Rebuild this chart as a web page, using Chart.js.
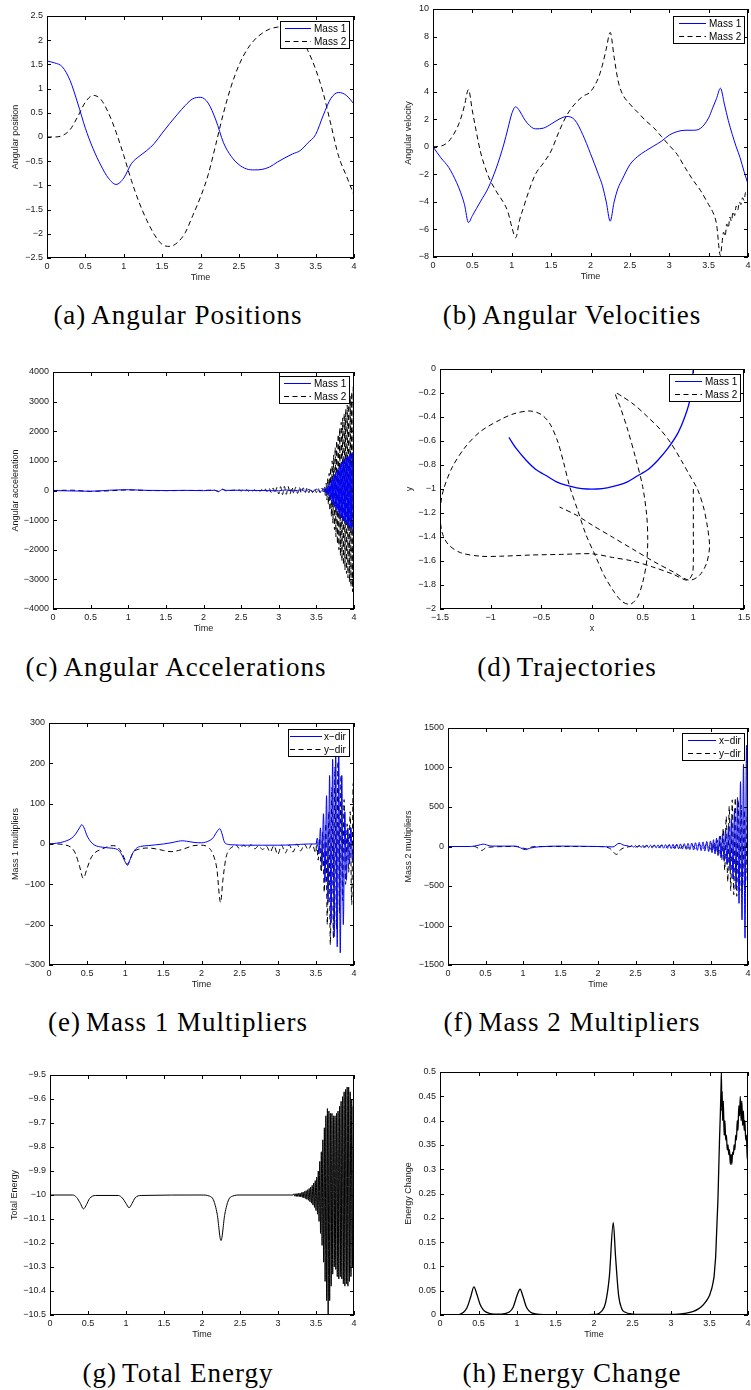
<!DOCTYPE html>
<html>
<head>
<meta charset="utf-8">
<script src="https://cdn.jsdelivr.net/npm/chart.js@4.4.1/dist/chart.umd.min.js"></script>
<style>
html, body { margin: 0; padding: 0; background: #fff; overflow: hidden; }
body { width: 751px; height: 1390px; position: relative; }
canvas { position: absolute; }
.cap {
    position: absolute;
    font-family: "Liberation Serif", "Times New Roman", serif;
    font-size: 27px;
    letter-spacing: 1px;
    line-height: 1;
    color: #000;
    white-space: nowrap;
    transform: translate(-50%, -50%);
}
.cap span { margin-right: 5px; }
</style>
</head>
<body>
<div class="cap" style="left:178px;top:315px"><span>(a)</span>Angular Positions</div>
<div class="cap" style="left:572px;top:315px"><span>(b)</span>Angular Velocities</div>
<div class="cap" style="left:176px;top:667px"><span>(c)</span>Angular Accelerations</div>
<div class="cap" style="left:567px;top:667px"><span>(d)</span>Trajectories</div>
<div class="cap" style="left:178px;top:1022px"><span>(e)</span>Mass 1 Multipliers</div>
<div class="cap" style="left:572px;top:1022px"><span>(f)</span>Mass 2 Multipliers</div>
<div class="cap" style="left:178px;top:1373px"><span>(g)</span>Total Energy</div>
<div class="cap" style="left:572px;top:1373px"><span>(h)</span>Energy Change</div>
<script>
// ---- tick labels ----
const timeTicks = [0, 0.5, 1, 1.5, 2, 2.5, 3, 3.5, 4];
const aYTicks = [-2.5, -2, -1.5, -1, -0.5, 0, 0.5, 1, 1.5, 2, 2.5];
const bYTicks = [-8, -6, -4, -2, 0, 2, 4, 6, 8, 10];
const cYTicks = [-4000, -3000, -2000, -1000, 0, 1000, 2000, 3000, 4000];
const dXTicks = [-1.5, -1, -0.5, 0, 0.5, 1, 1.5];
const dYTicks = [-2, -1.8, -1.6, -1.4, -1.2, -1, -0.8, -0.6, -0.4, -0.2, 0];
const eYTicks = [-300, -200, -100, 0, 100, 200, 300];
const fYTicks = [-1500, -1000, -500, 0, 500, 1000, 1500];
const gYTicks = [-10.5, -10.4, -10.3, -10.2, -10.1, -10, -9.9, -9.8, -9.7, -9.6, -9.5];
const hYTicks = [0, 0.05, 0.1, 0.15, 0.2, 0.25, 0.3, 0.35, 0.4, 0.45, 0.5];

// ---- (a) angular positions ----
const aTime = [0, 0.1, 0.2, 0.3, 0.4, 0.5, 0.6, 0.7, 0.8, 0.9, 1.0, 1.1, 1.2, 1.3, 1.4, 1.5, 1.6, 1.7, 1.8, 1.9,
    2.0, 2.1, 2.2, 2.3, 2.4, 2.5, 2.6, 2.7, 2.8, 2.9, 3.0, 3.1, 3.2, 3.3, 3.4, 3.5, 3.6, 3.7, 3.8, 3.9, 4.0];
const aMass1 = [1.57, 1.53, 1.45, 1.17, 0.70, 0.18, -0.24, -0.58, -0.85, -0.98, -0.85, -0.55, -0.40, -0.28, -0.13,
    0.08, 0.28, 0.47, 0.65, 0.79, 0.82, 0.70, 0.35, -0.12, -0.40, -0.57, -0.66, -0.68, -0.67, -0.62, -0.52,
    -0.43, -0.35, -0.28, -0.12, 0.05, 0.45, 0.80, 0.92, 0.86, 0.68];
const aMass2 = [0, 0.0, 0.03, 0.15, 0.42, 0.72, 0.86, 0.78, 0.50, 0.10, -0.38, -0.90, -1.35, -1.72, -2.02, -2.22,
    -2.26, -2.18, -1.98, -1.62, -1.24, -0.78, -0.15, 0.50, 1.05, 1.48, 1.79, 2.00, 2.14, 2.23, 2.27, 2.28,
    2.22, 2.05, 1.78, 1.40, 0.90, 0.25, -0.40, -0.80, -1.20];

// ---- (b) angular velocities ----
const bTime1 = [0, 0.1, 0.2, 0.3, 0.35, 0.4, 0.45, 0.5, 0.55, 0.6, 0.7, 0.8, 0.9, 0.95, 1.0, 1.05, 1.1, 1.15, 1.2, 1.3,
    1.4, 1.5, 1.6, 1.7, 1.8, 1.9, 2.0, 2.1, 2.15, 2.2, 2.25, 2.3, 2.35, 2.4, 2.5, 2.6, 2.7, 2.8, 2.9, 3.0,
    3.1, 3.2, 3.3, 3.4, 3.5, 3.55, 3.6, 3.65, 3.7, 3.75, 3.8, 3.85, 3.9, 3.95, 4.0];
const bMass1 = [0, -0.8, -1.5, -2.6, -3.3, -4.2, -5.5, -5.0, -4.5, -4.0, -3.0, -1.6, 0.2, 1.3, 2.4, 2.9, 2.6, 2.1, 1.7, 1.3,
    1.35, 1.65, 2.0, 2.2, 1.95, 0.9, -0.5, -2.0, -2.8, -4.0, -5.4, -4.0, -3.0, -2.4, -1.3, -0.7, -0.3, 0.05, 0.4, 0.85,
    1.1, 1.2, 1.2, 1.35, 2.1, 2.8, 3.5, 4.25, 3.1, 1.9, 0.9, 0.0, -0.8, -1.8, -2.7];
const bTime2 = [0, 0.1, 0.2, 0.3, 0.35, 0.4, 0.45, 0.5, 0.55, 0.6, 0.7, 0.8, 0.9, 0.95, 1.0, 1.05, 1.1, 1.15, 1.2, 1.3,
    1.4, 1.5, 1.6, 1.7, 1.8, 1.9, 2.0, 2.1, 2.15, 2.2, 2.25, 2.3, 2.35, 2.4, 2.5, 2.6, 2.7, 2.8, 2.9, 3.0,
    3.1, 3.2, 3.3, 3.4, 3.5, 3.55, 3.6, 3.65, 3.67, 3.69, 3.71, 3.73, 3.75, 3.77, 3.79, 3.81, 3.83, 3.85,
    3.87, 3.89, 3.91, 3.93, 3.95, 3.97, 3.99, 4.0];
const bMass2 = [0, 0.05, 0.4, 1.3, 2.0, 3.0, 4.15, 2.6, 1.1, -0.3, -2.1, -3.2, -4.1, -4.7, -5.8, -6.6, -5.3, -4.4, -3.5, -2.0,
    -1.2, -0.3, 1.1, 2.3, 3.1, 3.65, 4.0, 5.0, 5.9, 7.1, 8.3, 6.5, 4.8, 3.9, 3.1, 2.5, 1.9, 1.4, 0.75, 0.1,
    -0.55, -1.5, -2.4, -3.2, -4.2, -4.7, -5.6, -7.9, -7.0, -6.2, -6.5, -5.6, -5.9, -5.1, -5.4, -4.7, -5.0, -4.3,
    -4.6, -4.0, -4.2, -3.7, -3.9, -3.3, -3.5, -3.1];

// ---- (c) angular accelerations ----
const cTime1 = [0, 0.25, 0.5, 0.75, 1, 1.25, 1.5, 1.75, 2, 2.15, 2.2, 2.25, 2.3, 2.5, 2.75, 3, 3.1, 3.2, 3.3, 3.35,
    3.4, 3.45, 3.5, 3.55, 3.6, 3.61, 3.62, 3.63, 3.64, 3.65, 3.66, 3.67, 3.68, 3.69, 3.7, 3.71, 3.72, 3.73,
    3.74, 3.75, 3.76, 3.77, 3.78, 3.79, 3.8, 3.81, 3.82, 3.83, 3.84, 3.85, 3.86, 3.87, 3.88, 3.89, 3.9,
    3.91, 3.92, 3.93, 3.94, 3.95, 3.96, 3.97, 3.98, 3.99, 4];
const cMass1 = [0, -15, -25, 10, 25, 5, 0, 5, -5, 10, -30, 35, 5, 10, 0, -10, 20, -15, 25, -30,
    35, -40, 45, -50, 55, -40, 60, -80, 110, -140, 170, -210, 250, -300, 350, -400, 450, -500,
    540, -580, 620, -660, 700, -740, 780, -840, 880, -910, 950, -980, 1010, -1040, 1070, -1100, 1120,
    -1150, 1170, -1200, 1220, -1260, 1250, -1320, 1280, -1430, 1300];
const cTime2 = [0, 0.25, 0.5, 0.75, 1, 1.25, 1.5, 1.75, 2, 2.15, 2.2, 2.25, 2.3, 2.4,
    2.425, 2.45, 2.475, 2.5, 2.525, 2.55, 2.575, 2.6, 2.625, 2.65, 2.675, 2.7, 2.725, 2.75, 2.775, 2.8,
    2.825, 2.85, 2.875, 2.9, 2.925, 2.95, 2.975, 3, 3.025, 3.05, 3.075, 3.1, 3.125, 3.15, 3.175, 3.2,
    3.225, 3.25, 3.275, 3.3, 3.325, 3.35, 3.375, 3.4, 3.425, 3.45, 3.475, 3.5, 3.525, 3.55, 3.575, 3.6,
    3.61, 3.62, 3.63, 3.64, 3.65, 3.66, 3.67, 3.68, 3.69, 3.7, 3.71, 3.72, 3.73, 3.74, 3.75, 3.76, 3.77,
    3.78, 3.79, 3.8, 3.81, 3.82, 3.83, 3.84, 3.85, 3.86, 3.87, 3.88, 3.89, 3.9, 3.91, 3.92, 3.93, 3.94,
    3.95, 3.96, 3.97, 3.98, 3.99, 4];
const cMass2 = [0, 10, -30, -10, 20, 0, -5, 0, 5, 10, -40, 45, -10, 10,
    15, -15, 18, -18, 20, -20, 22, -22, 25, -25, 28, -28, 30, -32, 35, -38,
    45, -50, 60, -70, 80, -90, 100, -120, 130, -140, 140, -130, 130, -120, 120, -110,
    110, -100, 100, -90, 90, -80, 80, -75, 75, -70, 70, -70, 70, -75, 80, -100,
    120, -180, 250, -320, 400, -480, 580, -680, 780, -880, 1000, -1100, 1200, -1320, 1450, -1560, 1680,
    -1800, 1900, -2000, 2100, -2200, 2300, -2380, 2450, -2520, 2600, -2680, 2750, -2800, 2880, -2950, 3030, -3100,
    3180, -3250, 3330, -3420, 3500, -3580];

// ---- (d) trajectories ----
const dX1 = [-0.82, -0.75, -0.65, -0.55, -0.45, -0.35, -0.25, -0.15, -0.05, 0.05, 0.15, 0.25, 0.35, 0.45, 0.55,
    0.65, 0.75, 0.85, 0.92, 0.97, 1.0];
const dY1 = [-0.57, -0.66, -0.76, -0.84, -0.89, -0.94, -0.97, -0.99, -1.0, -1.0, -0.99, -0.97, -0.94, -0.89, -0.84,
    -0.76, -0.66, -0.53, -0.39, -0.24, 0.0];
const dX2 = [1, 1, 1, 1, 0.99, 0.94, 0.8, 0.6, 0.4, 0.2, 0, -0.3, -0.6, -0.9, -1.1, -1.3, -1.42, -1.48, -1.5, -1.47,
    -1.38, -1.25, -1.1, -0.9, -0.76, -0.61, -0.5, -0.42, -0.34, -0.28, -0.22, -0.14, -0.06, 0.03, 0.12, 0.22, 0.3,
    0.38, 0.45, 0.5, 0.54, 0.55, 0.54, 0.5, 0.43, 0.35, 0.28, 0.23, 0.3, 0.42, 0.55, 0.67, 0.78, 0.88, 0.96, 1.04,
    1.1, 1.14, 1.16, 1.13, 1.06, 0.96, 0.8, 0.6, 0.4, 0.2, 0, -0.15, -0.32];
const dY2 = [-1, -1.2, -1.4, -1.6, -1.71, -1.76, -1.71, -1.65, -1.6, -1.57, -1.54, -1.545, -1.55, -1.56, -1.56, -1.53,
    -1.46, -1.36, -1.2, -1.02, -0.82, -0.65, -0.52, -0.42, -0.37, -0.35, -0.38, -0.45, -0.6, -0.78, -0.98, -1.18,
    -1.38, -1.55, -1.72, -1.86, -1.94, -1.96, -1.9, -1.78, -1.6, -1.42, -1.22, -0.98, -0.74, -0.5, -0.32, -0.2,
    -0.23, -0.3, -0.4, -0.5, -0.62, -0.76, -0.88, -1.0, -1.15, -1.32, -1.48, -1.62, -1.72, -1.76, -1.69, -1.6,
    -1.5, -1.4, -1.3, -1.22, -1.15];

// ---- (e) mass 1 multipliers ----
const eTimeX = [0, 0.1, 0.2, 0.3, 0.35, 0.4, 0.43, 0.46, 0.5, 0.55, 0.6, 0.7, 0.8, 0.9, 0.95, 1.0, 1.03, 1.06, 1.1, 1.15,
    1.2, 1.3, 1.4, 1.5, 1.6, 1.7, 1.75, 1.8, 1.9, 2.0, 2.1, 2.15, 2.2, 2.24, 2.27, 2.3, 2.35, 2.4, 2.6, 2.8,
    3.0, 3.2, 3.4, 3.5, 3.52, 3.54, 3.56, 3.58, 3.6, 3.62, 3.64, 3.66, 3.68, 3.7, 3.72, 3.74, 3.76, 3.78,
    3.8, 3.82, 3.84, 3.86, 3.88, 3.9, 3.92, 3.94, 3.96, 3.98, 4];
const eXdir = [0, 2, 6, 15, 25, 40, 48, 40, 20, 5, -3, -8, -10, -14, -25, -45, -53, -40, -22, -10,
    -6, -4, -2, 0, 3, 7, 8, 7, 4, 3, 8, 15, 30, 38, 25, 5, -1, -2, -3, -3,
    -3, -2, 0, 0, 15, -25, 40, -55, 75, -95, 120, -145, 170, -195, 210, -230, 230, -255,
    225, -270, 170, -200, 80, -90, 40, -50, 40, -40, 30];
const eTimeY = [0, 0.1, 0.2, 0.3, 0.35, 0.4, 0.45, 0.5, 0.55, 0.6, 0.7, 0.8, 0.85, 0.9, 0.95, 1.0, 1.03, 1.07, 1.1, 1.2,
    1.3, 1.4, 1.5, 1.6, 1.7, 1.8, 1.9, 2.0, 2.1, 2.15, 2.2, 2.25, 2.28, 2.32, 2.36, 2.4,
    2.45, 2.5, 2.55, 2.6, 2.65, 2.7, 2.75, 2.8, 2.85, 2.9, 2.95, 3, 3.05, 3.1, 3.15, 3.2, 3.25, 3.3, 3.35,
    3.4, 3.45, 3.5, 3.51, 3.53, 3.55, 3.57, 3.59, 3.61, 3.63, 3.65, 3.67, 3.69, 3.71, 3.73, 3.75, 3.77,
    3.79, 3.81, 3.83, 3.85, 3.87, 3.89, 3.91, 3.93, 3.95, 3.97, 3.99, 4];
const eYdir = [0, 0, -2, -10, -25, -55, -85, -60, -35, -22, -12, -5, -4, -8, -20, -40, -50, -35, -22, -12,
    -10, -12, -16, -19, -16, -10, -4, -3, -10, -25, -60, -145, -90, -35, -15, -8,
    -2, -12, -3, -10, -2, -12, -4, -14, -5, -20, -4, -26, -3, -22, -2, -20, 0, -17, -1,
    -14, 0, -22, 5, -40, 15, -70, 30, -120, 50, -200, 80, -250, 140, -235, 190, -210,
    205, -170, 170, -140, 110, -100, 50, -70, 80, -150, 150, -180];

// ---- (f) mass 2 multipliers ----
const fTimeX = [0, 0.3, 0.4, 0.47, 0.55, 0.6, 0.9, 0.95, 1.03, 1.1, 1.2, 1.5, 2.0, 2.2, 2.28, 2.35, 2.4,
    2.425, 2.45, 2.475, 2.5, 2.525, 2.55, 2.575, 2.6, 2.625, 2.65, 2.675, 2.7, 2.725, 2.75, 2.775, 2.8,
    2.825, 2.85, 2.875, 2.9, 2.925, 2.95, 2.975, 3, 3.025, 3.05, 3.075, 3.1, 3.125, 3.15, 3.175, 3.2,
    3.225, 3.25, 3.275, 3.3, 3.325, 3.35, 3.375, 3.4, 3.425, 3.45, 3.475, 3.5,
    3.52, 3.54, 3.56, 3.58, 3.6, 3.62, 3.64, 3.66, 3.68, 3.7, 3.72, 3.74, 3.76, 3.78, 3.8, 3.82, 3.84,
    3.86, 3.88, 3.9, 3.92, 3.94, 3.96, 3.98, 4];
const fXdir = [0, 0, 15, 30, 10, 5, 5, -10, -40, -20, -5, 5, 0, -5, 40, 15, 8,
    -5, 10, -8, 12, -10, 14, -12, 15, -14, 16, -15, 17, -16, 18, -18, 20,
    -20, 22, -22, 24, -24, 26, -26, 28, -28, 30, -30, 33, -33, 36, -36, 40,
    -40, 44, -44, 48, -48, 53, -53, 58, -58, 64, -64, 70,
    -78, 86, -94, 104, -115, 128, -142, 158, -175, 200, -225, 260, -300, 350, -410, 470, -540,
    620, -720, 820, -930, 1040, -1160, 1280, -1480];
const fTimeY = [0, 0.35, 0.4, 0.45, 0.5, 0.6, 0.9, 1.0, 1.05, 1.1, 1.2, 2.0, 2.15, 2.25, 2.3, 2.4,
    2.45, 2.5, 2.55, 2.6, 2.65, 2.7, 2.75, 2.8, 2.85, 2.9, 2.95, 3, 3.05, 3.1, 3.15, 3.2, 3.25, 3.3, 3.35,
    3.4, 3.45, 3.5, 3.51, 3.53, 3.55, 3.57, 3.59, 3.61, 3.63, 3.65, 3.67, 3.69, 3.71, 3.73, 3.75, 3.77,
    3.79, 3.81, 3.83, 3.85, 3.87, 3.89, 3.91, 3.93, 3.95, 3.97, 3.99, 4];
const fYdir = [0, 0, -20, -50, -20, -5, 0, -20, -30, -10, 0, 0, -20, -100, -40, -5,
    5, -8, 8, -10, 10, -12, 12, -14, 14, -16, 16, -18, 18, -20, 20, -22, 22, -25, 25,
    -28, 30, -35, 40, -45, 55, -65, 80, -100, 130, -170, 230, -300, 380, -450, 510, -560,
    590, -610, 615, -630, 590, -560, 520, -500, 460, -430, 400, -380];

// ---- (g) total energy ----
const gTime = [0, 0.3, 0.35, 0.4, 0.44, 0.48, 0.52, 0.6, 0.9, 0.95, 1.0, 1.04, 1.08, 1.12, 1.2, 2.0, 2.1, 2.15, 2.2, 2.25,
    2.3, 2.35, 2.4, 2.5, 3.2,
    3.21, 3.22, 3.23, 3.24, 3.25, 3.26, 3.27, 3.28, 3.29, 3.3, 3.31, 3.32, 3.33, 3.34, 3.35, 3.36, 3.37, 3.38, 3.39, 3.4,
    3.41, 3.42, 3.43, 3.44, 3.45, 3.46, 3.47, 3.48, 3.49, 3.5, 3.51, 3.52, 3.53, 3.54, 3.55, 3.56, 3.57, 3.58, 3.59, 3.6,
    3.61, 3.62, 3.63, 3.64, 3.65, 3.66, 3.67, 3.68, 3.69, 3.7, 3.71, 3.72, 3.73, 3.74, 3.75, 3.76, 3.77, 3.78, 3.79, 3.8,
    3.81, 3.82, 3.83, 3.84, 3.85, 3.86, 3.87, 3.88, 3.89, 3.9, 3.91, 3.92, 3.93, 3.94, 3.95, 3.96, 3.97, 3.98, 3.99, 4];
const gEnergy = [-10, -10, -10.01, -10.035, -10.058, -10.04, -10.015, -10.002, -10.002, -10.012, -10.035, -10.053, -10.035,
    -10.012, -10.002, -10, -10.005, -10.02, -10.08, -10.19, -10.08, -10.02, -10.005, -10, -10,
    -9.995, -10.005, -9.995, -10.006, -9.994, -10.006, -9.993, -10.007, -9.992, -10.008,
    -9.99, -10.01, -9.988, -10.012, -9.985, -10.015, -9.982, -10.018, -9.978, -10.022,
    -9.973, -10.028, -9.967, -10.034, -9.96, -10.042, -9.95, -10.052, -9.94, -10.065,
    -9.925, -10.08, -9.9, -10.11, -9.86, -10.16, -9.82, -10.21, -9.77, -10.28,
    -9.72, -10.36, -9.67, -10.44, -9.64, -10.5, -9.65, -10.44, -9.66, -10.38,
    -9.66, -10.33, -9.67, -10.3, -9.67, -10.31, -9.66, -10.34, -9.65, -10.35,
    -9.63, -10.34, -9.61, -10.35, -9.59, -10.37, -9.57, -10.38, -9.56, -10.37,
    -9.55, -10.38, -9.55, -10.36, -9.57, -10.34, -9.6, -10.3, -9.63, -10.22];

// ---- (h) energy change ----
const hTime = [0, 0.2, 0.25, 0.3, 0.35, 0.4, 0.44, 0.48, 0.52, 0.56, 0.6, 0.7, 0.8, 0.9, 0.95, 1.0, 1.04, 1.08, 1.12, 1.16,
    1.2, 1.3, 1.5, 2.0, 2.1, 2.15, 2.2, 2.25, 2.28, 2.32, 2.36, 2.4, 2.5, 2.7, 3.0, 3.1, 3.2, 3.3, 3.35, 3.4,
    3.45, 3.5, 3.51, 3.52, 3.53, 3.54, 3.55, 3.56, 3.57, 3.58, 3.59, 3.6, 3.61, 3.62, 3.63, 3.64, 3.65, 3.655,
    3.66, 3.665, 3.67, 3.68, 3.69, 3.7, 3.71, 3.72, 3.73, 3.74, 3.75, 3.76, 3.77, 3.78, 3.79, 3.8, 3.81, 3.82,
    3.83, 3.84, 3.85, 3.86, 3.87, 3.88, 3.89, 3.9, 3.91, 3.92, 3.93, 3.94, 3.95, 3.96, 3.97, 3.98, 3.99, 4];
const hChange = [0, 0, 0.001, 0.005, 0.015, 0.038, 0.058, 0.042, 0.022, 0.011, 0.006, 0.002, 0.002, 0.006, 0.016, 0.04,
    0.053, 0.037, 0.017, 0.008, 0.004, 0.001, 0, 0.001, 0.008, 0.025, 0.08, 0.19, 0.12, 0.04, 0.013, 0.006, 0.002,
    0.001, 0.001, 0.002, 0.004, 0.008, 0.012, 0.018, 0.027, 0.04, 0.045, 0.05, 0.055, 0.062, 0.07, 0.08, 0.1, 0.12,
    0.16, 0.2, 0.24, 0.3, 0.36, 0.41, 0.47, 0.5, 0.42, 0.46, 0.4, 0.44, 0.37, 0.4, 0.36, 0.37, 0.34, 0.35, 0.33,
    0.34, 0.31, 0.33, 0.31, 0.335, 0.33, 0.35, 0.34, 0.37, 0.36, 0.4, 0.38, 0.43, 0.41, 0.45, 0.4, 0.44, 0.39,
    0.42, 0.38, 0.4, 0.36, 0.37, 0.32, 0.34];

// ---- drawing ----
Chart.defaults.font.family = '"Liberation Sans", Arial, sans-serif';
Chart.defaults.font.size = 9;
Chart.defaults.color = '#1a1a1a';
Chart.defaults.animation = false;

const BLUE = '#0000ff';
const DASH = [5, 3.5];

function pts(xs, ys) {
    return xs.map((x, i) => ({ x: x, y: ys[i] }));
}

function fmt(v) {
    return String(v).replace('-', '\u2212');
}

function solid(label, data) {
    return { label: label, data: data, borderColor: BLUE, borderWidth: 1, pointRadius: 0, cubicInterpolationMode: 'monotone' };
}

function dashed(label, data) {
    return { label: label, data: data, borderColor: '#000', borderWidth: 1, borderDash: DASH, pointRadius: 0, cubicInterpolationMode: 'monotone' };
}

function black(data, w) {
    return { label: '', data: data, borderColor: '#000', borderWidth: w, pointRadius: 0, cubicInterpolationMode: 'monotone' };
}

// MATLAB style box, inward ticks on all sides, boxed legend
const matlabAxes = {
    id: 'matlabAxes',
    afterDatasetsDraw(chart, args, opts) {
        const ctx = chart.ctx;
        const a = chart.chartArea;
        const sx = chart.scales.x, sy = chart.scales.y;
        ctx.save();
        ctx.strokeStyle = '#000';
        ctx.lineWidth = 1;
        ctx.beginPath();
        sx.ticks.forEach(t => {
            const px = Math.round(sx.getPixelForValue(t.value)) + 0.5;
            ctx.moveTo(px, a.bottom); ctx.lineTo(px, a.bottom - 4);
            ctx.moveTo(px, a.top); ctx.lineTo(px, a.top + 4);
        });
        sy.ticks.forEach(t => {
            const py = Math.round(sy.getPixelForValue(t.value)) + 0.5;
            ctx.moveTo(a.left, py); ctx.lineTo(a.left + 4, py);
            ctx.moveTo(a.right, py); ctx.lineTo(a.right - 4, py);
        });
        ctx.stroke();
        ctx.strokeRect(a.left + 0.5, a.top + 0.5, a.right - a.left - 1, a.bottom - a.top - 1);

        const L = opts.legend;
        if (L) {
            const items = chart.data.datasets;
            ctx.font = L.size + 'px "Liberation Sans", Arial, sans-serif';
            const tw = Math.max(...items.map(d => ctx.measureText(d.label).width));
            const w = Math.round(L.lead + L.len + L.gap + tw + 3);
            const h = items.length * 13 + 1;
            const bx = Math.round(a.right - L.right - w);
            const by = Math.round(a.top + L.top);
            ctx.fillStyle = '#fff';
            ctx.fillRect(bx, by, w, h);
            ctx.strokeStyle = '#000';
            ctx.strokeRect(bx + 0.5, by + 0.5, w, h);
            items.forEach((d, i) => {
                const cy = by + 7 + i * 13;
                ctx.strokeStyle = d.borderColor;
                ctx.setLineDash(d.borderDash || []);
                ctx.beginPath();
                ctx.moveTo(bx + L.lead, cy + 0.5);
                ctx.lineTo(bx + L.lead + L.len, cy + 0.5);
                ctx.stroke();
                ctx.setLineDash([]);
                ctx.fillStyle = '#000';
                ctx.textBaseline = 'middle';
                ctx.textAlign = 'left';
                ctx.fillText(d.label, bx + L.lead + L.len + L.gap, cy + 1);
            });
        }
        ctx.restore();
    }
};

function makePanel(p) {
    const padT = 7, padR = 9, xH = 25;
    const left = Math.round(p.box[0] - p.tdist - 5.4);
    const yW = p.box[0] - left;
    const W = yW + (p.box[2] - p.box[0]) + padR;
    const H = padT + (p.box[3] - p.box[1]) + xH;
    const cv = document.createElement('canvas');
    cv.width = W; cv.height = H;
    cv.style.left = left + 'px';
    cv.style.top = (p.box[1] - padT) + 'px';
    cv.style.width = W + 'px';
    cv.style.height = H + 'px';
    document.body.appendChild(cv);

    new Chart(cv, {
        type: 'line',
        data: { datasets: p.sets },
        options: {
            responsive: false,
            animation: false,
            layout: { padding: { top: padT, right: padR, left: 0, bottom: 0 } },
            plugins: {
                legend: { display: false },
                tooltip: { enabled: false },
                matlabAxes: { legend: p.legend }
            },
            scales: {
                x: {
                    type: 'linear',
                    min: p.xTicks[0],
                    max: p.xTicks[p.xTicks.length - 1],
                    afterBuildTicks: s => { s.ticks = p.xTicks.map(v => ({ value: v })); },
                    afterFit: s => { s.height = xH; s.paddingLeft = 0; s.paddingRight = 0; },
                    ticks: { autoSkip: false, maxRotation: 0, padding: 3, callback: v => fmt(v) },
                    grid: { display: false, drawTicks: false },
                    border: { display: false },
                    title: { display: true, text: p.xt, padding: 0, font: { size: 9 } }
                },
                y: {
                    type: 'linear',
                    min: p.yTicks[0],
                    max: p.yTicks[p.yTicks.length - 1],
                    afterBuildTicks: s => { s.ticks = p.yTicks.map(v => ({ value: v })); },
                    afterFit: s => { s.width = yW; s.paddingTop = 0; s.paddingBottom = 0; },
                    ticks: { autoSkip: false, padding: 4, callback: v => fmt(v) },
                    grid: { display: false, drawTicks: false },
                    border: { display: false },
                    title: { display: true, text: p.yt, padding: 0, font: { size: 9 } }
                }
            }
        },
        plugins: [matlabAxes]
    });
}

const trajMass1 = Object.assign(solid('Mass 1', pts(dX1, dY1)), { cubicInterpolationMode: 'default', tension: 0.3, borderWidth: 1.3 });
const trajMass2 = Object.assign(dashed('Mass 2', pts(dX2, dY2)), { cubicInterpolationMode: 'default', tension: 0.3 });

const panels = [
    { box: [47, 16, 354, 258], tdist: 32, xt: 'Time', yt: 'Angular position', xTicks: timeTicks, yTicks: aYTicks,
      legend: { right: 5, top: 5, lead: 5, len: 26, gap: 3, size: 10 },
      sets: [solid('Mass 1', pts(aTime, aMass1)), dashed('Mass 2', pts(aTime, aMass2))] },
    { box: [433, 9, 748, 257], tdist: 24.5, xt: 'Time', yt: 'Angular velocity', xTicks: timeTicks, yTicks: bYTicks,
      legend: { right: 4, top: 7, lead: 6, len: 27, gap: 3, size: 10 },
      sets: [solid('Mass 1', pts(bTime1, bMass1)), dashed('Mass 2', pts(bTime2, bMass2))] },
    { box: [53, 372, 354, 609], tdist: 38, xt: 'Time', yt: 'Angular acceleration', xTicks: timeTicks, yTicks: cYTicks,
      legend: { right: 5, top: 4, lead: 5, len: 27, gap: 3, size: 10 },
      sets: [solid('Mass 1', pts(cTime1, cMass1)), dashed('Mass 2', pts(cTime2, cMass2))] },
    { box: [440, 369, 744, 609], tdist: 31, xt: 'x', yt: 'y', xTicks: dXTicks, yTicks: dYTicks,
      legend: { right: 4, top: 5, lead: 6, len: 27, gap: 3, size: 10 },
      sets: [trajMass1, trajMass2] },
    { box: [49, 723, 354, 965], tdist: 34, xt: 'Time', yt: 'Mass 1 multipliers', xTicks: timeTicks, yTicks: eYTicks,
      legend: { right: 5, top: 6, lead: 2, len: 32, gap: 2, size: 10 },
      sets: [solid('x\u2212dir', pts(eTimeX, eXdir)), dashed('y\u2212dir', pts(eTimeY, eYdir))] },
    { box: [448, 728, 748, 965], tdist: 39.5, xt: 'Time', yt: 'Mass 2 multipliers', xTicks: timeTicks, yTicks: fYTicks,
      legend: { right: 4, top: 5, lead: 6, len: 28, gap: 3, size: 10 },
      sets: [solid('x\u2212dir', pts(fTimeX, fXdir)), dashed('y\u2212dir', pts(fTimeY, fYdir))] },
    { box: [50, 1075, 354, 1315], tdist: 36, xt: 'Time', yt: 'Total Energy', xTicks: timeTicks, yTicks: gYTicks,
      legend: null,
      sets: [black(pts(gTime, gEnergy), 1)] },
    { box: [440, 1072, 748, 1315], tdist: 32, xt: 'Time', yt: 'Energy Change', xTicks: timeTicks, yTicks: hYTicks,
      legend: null,
      sets: [black(pts(hTime, hChange), 1.3)] }
];

panels.forEach(makePanel);
</script>
</body>
</html>
